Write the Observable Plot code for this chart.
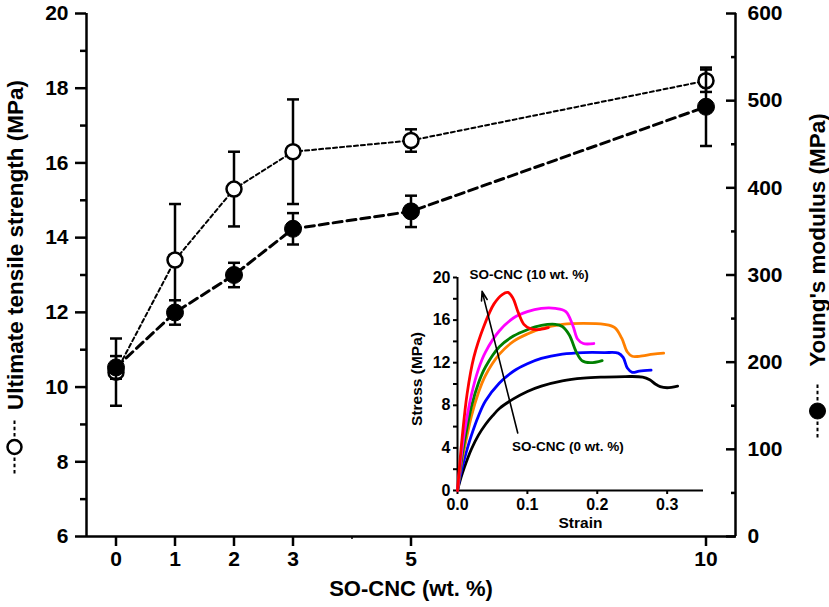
<!DOCTYPE html>
<html><head><meta charset="utf-8">
<script src="https://cdn.jsdelivr.net/npm/d3@7"></script>
<script src="https://cdn.jsdelivr.net/npm/@observablehq/plot@0.6"></script>
<style>
body{margin:0;background:#fff;}
#wrap{position:relative;width:829px;height:607px;}
#wrap > svg{position:absolute;left:0;top:0;}
#wrap > svg.inset{left:390px;top:250px;}
</style></head><body><div id="wrap"></div>
<script>
// ---- main chart data ----
const loading = [0, 1, 2, 3, 5, 10];
const tensile = [10.4, 13.4, 15.3, 16.3, 16.6, 18.2];
const tensileErr = [0.9, 1.5, 1.0, 1.4, 0.3, 0.3];
const modulus = [194, 257, 300, 353, 373, 493];
const modulusErr = [13, 14, 14, 18, 18, 45];
const xTicks = [0, 1, 2, 3, 5, 10];
const xMinor = [4];
const leftTicks = [6, 8, 10, 12, 14, 16, 18, 20];
const leftMinor = [7, 9, 11, 13, 15, 17, 19];
const rightTicks = [0, 100, 200, 300, 400, 500, 600];
const rightMinor = [50, 150, 250, 350, 450, 550];
const xTitle = "SO-CNC (wt. %)";
const leftTitle = "Ultimate tensile strength (MPa)";
const rightTitle = "Young's modulus (MPa)";

// ---- inset data (strain, stress) ----
const curveColors = ["#000000", "#0000ff", "#ff8000", "#008000", "#ff00ff", "#ff0000"];
const curve0 = [[0,0],[0.005,1.2],[0.01,2.2],[0.02,3.9],[0.03,5.2],[0.04,6.2],[0.05,7.0],[0.06,7.7],[0.08,8.6],[0.10,9.3],[0.12,9.8],[0.15,10.3],[0.18,10.55],[0.21,10.65],[0.24,10.7],[0.265,10.65],[0.275,10.4],[0.283,10.0],[0.29,9.75],[0.30,9.65],[0.315,9.8]];
const curve1 = [[0,0],[0.005,1.7],[0.01,3.0],[0.02,5.2],[0.03,7.0],[0.04,8.4],[0.06,10.1],[0.08,11.2],[0.10,11.9],[0.12,12.4],[0.15,12.8],[0.18,12.95],[0.21,12.95],[0.23,12.9],[0.237,12.5],[0.243,11.5],[0.25,11.1],[0.26,11.2],[0.277,11.3]];
const curve2 = [[0,0],[0.005,2.3],[0.01,4.0],[0.02,7.0],[0.03,9.2],[0.04,10.8],[0.06,12.8],[0.08,14.0],[0.10,14.7],[0.12,15.2],[0.15,15.6],[0.18,15.7],[0.21,15.6],[0.225,15.3],[0.235,14.3],[0.243,13.0],[0.25,12.6],[0.26,12.6],[0.28,12.8],[0.295,12.9]];
const curve3 = [[0,0],[0.005,2.6],[0.01,4.6],[0.02,7.9],[0.03,10.1],[0.04,11.6],[0.06,13.5],[0.08,14.5],[0.10,15.1],[0.12,15.5],[0.14,15.6],[0.15,15.4],[0.16,14.6],[0.17,13.0],[0.178,12.2],[0.19,12.0],[0.207,12.2]];
const curve4 = [[0,0],[0.005,3.1],[0.01,5.5],[0.02,9.0],[0.03,11.4],[0.04,13.0],[0.06,15.0],[0.08,16.2],[0.10,16.8],[0.12,17.1],[0.14,17.1],[0.155,16.8],[0.165,15.5],[0.172,14.2],[0.18,13.8],[0.195,13.8]];
const curve5 = [[0,0],[0.0067,5.0],[0.0138,9.1],[0.0233,12.5],[0.0376,15.4],[0.052,17.5],[0.064,18.4],[0.072,18.6],[0.079,18.1],[0.087,16.7],[0.095,15.6],[0.104,15.2],[0.114,15.1],[0.13,15.3]];
const curves = [curve0, curve1, curve2, curve3, curve4, curve5];
const stressTicks = [0, 4, 8, 12, 16, 20];
const stressMinor = [2, 6, 10, 14, 18];
const strainTicks = [0, 0.1, 0.2, 0.3];
const arrowFrom = [0.0862, 5.4];
const arrowTo = [0.0352, 18.7];
const notes = [
  {x: 0.017, y: 20.25, label: "SO-CNC (10 wt. %)"},
  {x: 0.078, y: 4.1, label: "SO-CNC (0 wt. %)"}
];

const FONT = '"Liberation Sans", Arial, sans-serif';
const toLeft = m => 6 + m * 14 / 600;
const fromLeft = v => Math.round((v - 6) * 600 / 14);

const rowsT = loading.map((x, i) => ({x, y: tensile[i], lo: tensile[i] - tensileErr[i], hi: tensile[i] + tensileErr[i]}));
const rowsM = loading.map((x, i) => ({x, y: toLeft(modulus[i]), lo: toLeft(modulus[i] - modulusErr[i]), hi: toLeft(modulus[i] + modulusErr[i])}));

// error-bar cap: a short horizontal stroke
const cap = {draw(ctx, size) { const w = Math.sqrt(size / Math.PI); ctx.moveTo(-w, 0); ctx.lineTo(w, 0); }};
// legend key in the rotated axis titles: three short dashes on each side of the marker
const dashKey = {draw(ctx) {
  for (const s of [-1, 1]) for (let k = 0; k < 3; k++) {
    const a = 10.5 + k * 6.2;
    ctx.moveTo(0, s * a); ctx.lineTo(0, s * (a + 3.6));
  }
}};

const main = Plot.plot({
  width: 829, height: 607,
  marginLeft: 86, marginRight: 94, marginTop: 13, marginBottom: 71,
  style: {fontFamily: FONT, fontWeight: "bold", fontSize: "21px", color: "black", background: "white"},
  x: {domain: [-0.5, 10.5]},
  y: {domain: [6, 20]},
  marks: [
    Plot.ruleX([-0.5, 10.5], {stroke: "black", strokeWidth: 2.5}),
    Plot.ruleY([6], {stroke: "black", strokeWidth: 2.5}),
    Plot.axisX(xTicks, {anchor: "bottom", tickSize: 10, tickPadding: 5, strokeWidth: 2.5, fontSize: 21, label: null}),
    Plot.axisX(xMinor, {anchor: "bottom", tickSize: 3, strokeWidth: 1.5, tickFormat: () => "", label: null}),
    Plot.axisY(leftTicks, {anchor: "left", tickSize: 11, tickPadding: 7, strokeWidth: 2.5, fontSize: 21, label: null}),
    Plot.axisY(leftMinor, {anchor: "left", tickSize: 6, strokeWidth: 2.5, tickFormat: () => "", label: null}),
    Plot.axisY(rightTicks.map(toLeft), {anchor: "right", tickSize: 10, dx: -10, tickPadding: 12, strokeWidth: 2.5, fontSize: 21, tickFormat: fromLeft, label: null}),
    Plot.axisY(rightMinor.map(toLeft), {anchor: "right", tickSize: 5, dx: -5, strokeWidth: 2.5, tickFormat: () => "", label: null}),
    Plot.text([xTitle], {frameAnchor: "bottom", dy: 52, fontSize: 22, lineAnchor: "middle"}),
    Plot.text([leftTitle], {frameAnchor: "left", dx: -71, dy: -30, rotate: -90, fontSize: 22.5, textAnchor: "middle"}),
    Plot.dot([0], {frameAnchor: "left", dx: -72, dy: 172, symbol: dashKey, stroke: "black", strokeWidth: 2}),
    Plot.dot([0], {frameAnchor: "left", dx: -72, dy: 172, r: 7, fill: "white", stroke: "black", strokeWidth: 2.5}),
    Plot.text([rightTitle], {frameAnchor: "right", dx: 82, dy: -35, rotate: -90, fontSize: 22.5, textAnchor: "middle"}),
    Plot.dot([0], {frameAnchor: "right", dx: 82, dy: 136, symbol: dashKey, stroke: "black", strokeWidth: 2}),
    Plot.dot([0], {frameAnchor: "right", dx: 82, dy: 136, r: 8, fill: "black", stroke: "black", strokeWidth: 1}),
    // tensile strength (open circles)
    Plot.line(rowsT, {x: "x", y: "y", stroke: "black", strokeWidth: 2, strokeDasharray: "4,3"}),
    Plot.ruleX(rowsT, {x: "x", y1: "lo", y2: "hi", stroke: "black", strokeWidth: 2.5}),
    Plot.dot(rowsT, {x: "x", y: "lo", symbol: cap, r: 6, stroke: "black", fill: "none", strokeWidth: 2.5}),
    Plot.dot(rowsT, {x: "x", y: "hi", symbol: cap, r: 6, stroke: "black", fill: "none", strokeWidth: 2.5}),
    Plot.dot(rowsT, {x: "x", y: "y", r: 7.5, fill: "white", stroke: "black", strokeWidth: 2.5}),
    // Young's modulus (filled circles)
    Plot.line(rowsM, {x: "x", y: "y", stroke: "black", strokeWidth: 3, strokeDasharray: "9,5"}),
    Plot.ruleX(rowsM, {x: "x", y1: "lo", y2: "hi", stroke: "black", strokeWidth: 2.5}),
    Plot.dot(rowsM, {x: "x", y: "lo", symbol: cap, r: 6, stroke: "black", fill: "none", strokeWidth: 2.5}),
    Plot.dot(rowsM, {x: "x", y: "hi", symbol: cap, r: 6, stroke: "black", fill: "none", strokeWidth: 2.5}),
    Plot.dot(rowsM, {x: "x", y: "y", r: 8.5, fill: "black", stroke: "black", strokeWidth: 1})
  ]
});

const curveMarks = curves.map((c, i) => Plot.line(c, {x: d => d[0], y: d => d[1], stroke: curveColors[i], strokeWidth: 2.8, curve: "catmull-rom"}));

const inset = Plot.plot({
  width: 320, height: 290,
  marginLeft: 67, marginTop: 27, marginRight: 7, marginBottom: 50,
  style: {fontFamily: FONT, fontWeight: "bold", fontSize: "16px", color: "black", background: "none", overflow: "visible"},
  x: {domain: [0, 0.352]},
  y: {domain: [0, 20]},
  marks: [
    Plot.ruleX([0], {stroke: "black", strokeWidth: 2}),
    Plot.ruleY([0], {stroke: "black", strokeWidth: 2}),
    Plot.axisY(stressTicks, {anchor: "left", tickSize: 4, tickPadding: 3, strokeWidth: 2, fontSize: 16, label: null}),
    Plot.axisY(stressMinor, {anchor: "left", tickSize: 4, strokeWidth: 2, tickFormat: () => "", label: null}),
    Plot.axisX(strainTicks, {anchor: "bottom", tickSize: 4, tickPadding: 4, strokeWidth: 2, fontSize: 16, tickFormat: d3.format(".1f"), label: null}),
    Plot.text(["Stress (MPa)"], {frameAnchor: "left", dx: -40, dy: -5, rotate: -90, fontSize: 15.5, textAnchor: "middle"}),
    Plot.text(["Strain"], {frameAnchor: "bottom", dy: 33, fontSize: 15.5, lineAnchor: "middle"}),
    ...curveMarks,
    Plot.arrow([0], {x1: () => arrowFrom[0], y1: () => arrowFrom[1], x2: () => arrowTo[0], y2: () => arrowTo[1], stroke: "black", strokeWidth: 1.6, headLength: 9, headAngle: 35}),
    Plot.text(notes, {x: "x", y: "y", text: "label", textAnchor: "start", fontSize: 13.5, lineAnchor: "middle"})
  ]
});

const wrap = document.getElementById("wrap");
wrap.appendChild(main);
inset.classList.add("inset");
wrap.appendChild(inset);
</script>
</body></html>
